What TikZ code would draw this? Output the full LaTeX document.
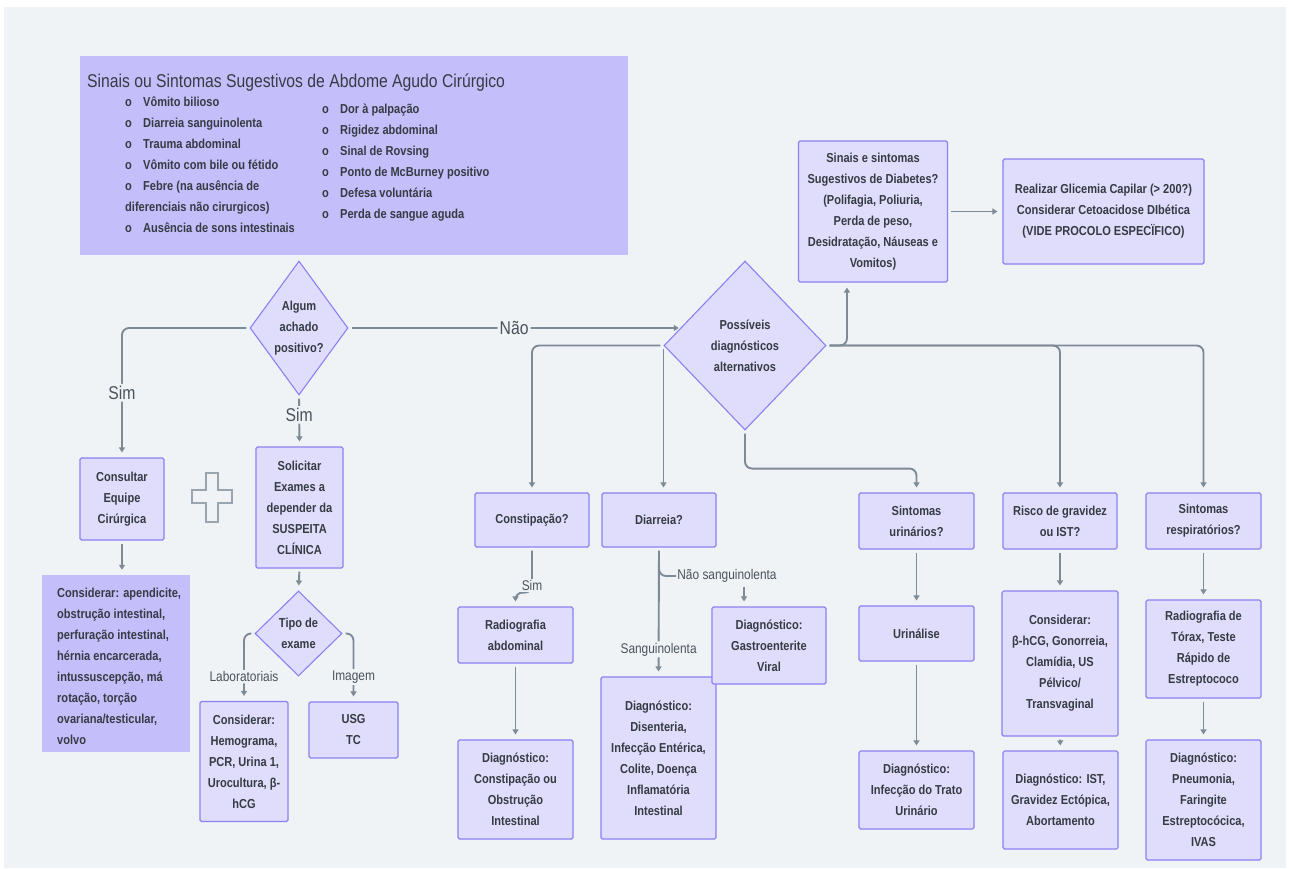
\documentclass[tikz,border=0pt]{standalone}
\usepackage{fontspec}
\setmainfont{Liberation Sans}[FakeStretch=0.85]
\usetikzlibrary{arrows.meta,shapes.geometric,calc}
\definecolor{bg}{HTML}{EFF3F6}
\definecolor{bfill}{HTML}{DFDDFB}
\definecolor{bdraw}{HTML}{8C81F2}
\definecolor{sfill}{HTML}{C4BEFB}
\definecolor{txt}{HTML}{363B43}
\definecolor{lncol}{HTML}{7E8A96}
\definecolor{lblc}{HTML}{4A525C}
\definecolor{plusc}{HTML}{9AA4AE}
\newcommand{\bxf}{\bfseries\fontsize{13}{21}\selectfont}
\newcommand{\lbf}{\fontsize{14}{17}\selectfont}
\newcommand{\blf}{\fontsize{18.5}{22}\selectfont}
\tikzset{
  box/.style={draw=bdraw, fill=bfill, line width=1.1pt, rounded corners=1.5pt, align=center, text=txt, font=\bxf, inner sep=0pt},
  sbox/.style={fill=sfill, inner sep=0pt},
  dia/.style={diamond, draw=bdraw, fill=bfill, line width=1.1pt, inner sep=0pt},
  dtxt/.style={align=center, text=txt, font=\bxf, inner sep=0pt},
  btxt/.style={anchor=base west, text=txt, font=\bxf, inner sep=0pt},
  lbl/.style={fill=bg, text=lblc, font=\lbf, inner sep=1.5pt},
  blbl/.style={fill=bg, text=lblc, font=\blf, inner sep=2pt},
  ln/.style={draw=lncol, line width=1.9pt, rounded corners=7pt},
  arr/.style={ln, -{Triangle[length=5pt,width=6pt]}, shorten >=5pt, shorten <=3pt},
}
\begin{document}
\begin{tikzpicture}[x=1pt,y=-1pt]
\useasboundingbox (0,0) rectangle (1289,868);
\fill[white] (0,0) rectangle (1289,868);
\fill[bg] (4,7) rectangle (1286,868);

% top box
\node[sbox, minimum width=548, minimum height=199, anchor=north west] (top) at (80,56) {};
\node[anchor=base west, inner sep=0pt, text=txt, font=\blf] (title) at (87,87) {Sinais ou Sintomas Sugestivos de Abdome Agudo Cirúrgico};
\node[btxt] (la1) at (125,106.5) {o};  \node[btxt] (lb1) at (143,106.5) {Vômito bilioso};
\node[btxt] (la2) at (125,127.5) {o};  \node[btxt] (lb2) at (143,127.5) {Diarreia sanguinolenta};
\node[btxt] (la3) at (125,148.5) {o};  \node[btxt] (lb3) at (143,148.5) {Trauma abdominal};
\node[btxt] (la4) at (125,169.5) {o};  \node[btxt] (lb4) at (143,169.5) {Vômito com bile ou fétido};
\node[btxt] (la5) at (125,190.5) {o};  \node[btxt] (lb5) at (143,190.5) {Febre (na ausência de};
\node[btxt] (lb6) at (125,211.5) {diferenciais não cirurgicos)};
\node[btxt] (la7) at (125,232.5) {o};  \node[btxt] (lb7) at (143,232.5) {Ausência de sons intestinais};
\node[btxt] (ra1) at (322,113) {o};  \node[btxt] (rb1) at (340,113) {Dor à palpação};
\node[btxt] (ra2) at (322,134) {o};  \node[btxt] (rb2) at (340,134) {Rigidez abdominal};
\node[btxt] (ra3) at (322,155) {o};  \node[btxt] (rb3) at (340,155) {Sinal de Rovsing};
\node[btxt] (ra4) at (322,176) {o};  \node[btxt] (rb4) at (340,176) {Ponto de McBurney positivo};
\node[btxt] (ra5) at (322,197) {o};  \node[btxt] (rb5) at (340,197) {Defesa voluntária};
\node[btxt] (ra6) at (322,218) {o};  \node[btxt] (rb6) at (340,218) {Perda de sangue aguda};

% left part
\node[dia, minimum width=98, minimum height=134] (algum) at (299,328) {};
\node[dtxt] (algumt) at (algum) {Algum\\achado\\positivo?};
\node[box, minimum width=84, minimum height=82] (consult) at (122,499) {Consultar\\Equipe\\Cirúrgica};
\node[box, minimum width=87, minimum height=121] (solic) at (299.5,507.5) {Solicitar\\Exames a\\depender da\\SUSPEITA\\CLÍNICA};
\node[sbox, minimum width=148, minimum height=177] (consid) at (116,663.5) {};
\node[anchor=west, align=left, text=txt, font=\bxf, inner sep=0pt] (considt) at (57,666) {Considerar: apendicite,\\obstrução intestinal,\\perfuração intestinal,\\hérnia encarcerada,\\intussuscepção, má\\rotação, torção\\ovariana/testicular,\\volvo};
\node[dia, minimum width=87, minimum height=85] (tipo) at (298.5,633.5) {};
\node[dtxt] (tipot) at (tipo) {Tipo de\\exame};
\node[box, minimum width=88, minimum height=120] (lab) at (244,761.5) {Considerar:\\Hemograma,\\PCR, Urina 1,\\Urocultura, β-\\hCG};
\node[box, minimum width=89, minimum height=56] (img) at (353.5,730) {USG\\TC};
\draw[plusc, line width=1.3pt] (206,473) -- (218,473) -- (218,490) -- (232,490) -- (232,503) -- (218,503) -- (218,522) -- (206,522) -- (206,503) -- (192,503) -- (192,490) -- (206,490) -- cycle;

% middle / right
\node[dia, minimum width=162, minimum height=169] (poss) at (745,345.5) {};
\node[dtxt] (posst) at (poss) {Possíveis\\diagnósticos\\alternativos};
\node[box, minimum width=149, minimum height=141] (diab) at (873,211.5) {Sinais e sintomas\\Sugestivos de Diabetes?\\(Polifagia, Poliuria,\\Perda de peso,\\Desidratação, Náuseas e\\Vomitos)};
\node[box, minimum width=201, minimum height=105] (real) at (1103.5,211.5) {Realizar Glicemia Capilar (> 200?)\\Considerar Cetoacidose DIbética\\(VIDE PROCOLO ESPECÏFICO)};
\node[box, minimum width=114, minimum height=54] (const) at (532,520) {Constipação?};
\node[box, minimum width=114, minimum height=54] (diar) at (659,520) {Diarreia?};
\node[box, minimum width=115, minimum height=56] (urin) at (916.5,521) {Sintomas\\urinários?};
\node[box, minimum width=114, minimum height=56] (risco) at (1060,521) {Risco de gravidez\\ou IST?};
\node[box, minimum width=115, minimum height=56] (resp) at (1203.5,521) {Sintomas\\respiratórios?};
\node[box, minimum width=115, minimum height=56] (rad) at (515.5,635) {Radiografia\\abdominal};
\node[box, minimum width=115, minimum height=99] (diagC) at (515.5,789.5) {Diagnóstico:\\Constipação ou\\Obstrução\\Intestinal};
\node[box, minimum width=115, minimum height=162] (diagD) at (658.5,758) {Diagnóstico:\\Disenteria,\\Infecção Entérica,\\Colite, Doença\\Inflamatória\\Intestinal};
\node[box, minimum width=114, minimum height=77] (gastro) at (769,645.5) {Diagnóstico:\\Gastroenterite\\Viral};
\node[box, minimum width=115, minimum height=55] (urinal) at (916.5,633.5) {Urinálise};
\node[box, minimum width=115, minimum height=78] (itu) at (916.5,790) {Diagnóstico:\\Infecção do Trato\\Urinário};
\node[box, minimum width=116, minimum height=145] (cons2) at (1060,663.5) {Considerar:\\β-hCG, Gonorreia,\\Clamídia, US\\Pélvico/\\Transvaginal};
\node[box, minimum width=115, minimum height=98] (ist) at (1060.5,800) {Diagnóstico: IST,\\Gravidez Ectópica,\\Abortamento};
\node[box, minimum width=115, minimum height=98] (radT) at (1203.5,649) {Radiografia de\\Tórax, Teste\\Rápido de\\Estreptococo};
\node[box, minimum width=115, minimum height=120] (diagR) at (1203.5,800) {Diagnóstico:\\Pneumonia,\\Faringite\\Estreptocócica,\\IVAS};

% connectors
\draw[arr] (algum.west) -| (consult.north) node[pos=0.75, blbl] (s1) {Sim};
\draw[arr] (algum.south) -- (solic.north) node[pos=0.38, blbl] (s2) {Sim};
\coordinate (naoend) at ($(poss.west)!0.2!(poss.north)$);
\draw[arr, shorten >=1pt] (algum.east) -- (algum.east -| naoend) node[midway, blbl] (nao) {Não};
\draw[arr] (consult.south) -- (consult.south |- consid.north);
\draw[arr] (solic.south) -- (tipo.north);
\draw[arr] (tipo.west) -| (lab.north) node[pos=0.82, lbl] (lablab) {Laboratoriais};
\draw[arr] (tipo.east) -| (img.north) node[pos=0.82, lbl] (labimg) {Imagem};

\draw[arr] (poss.west) -| (const.north);
\draw[arr] (poss.west) -- (poss.west |- diar.north);
\coordinate (j1) at ($(poss.south)+(0,38)$);
\draw[arr] (poss.south) -- (j1) -| (urin.north);
\coordinate (dbin) at ($(diab.south west)+(49,0)$);
\draw[arr] (poss.east) -| (dbin);
\draw[arr] (poss.east) -| (risco.north);
\draw[arr] (poss.east) -| (resp.north);
\draw[arr] (diab.east) -- (real.west);

\coordinate (cs) at ($(const.south)+(0,45)$);
\draw[arr] (const.south) -- (cs) -| (rad.north);
\node[lbl] (s3) at ($(const.south)+(0,38)$) {Sim};
\draw[arr] (rad.south) -- (diagC.north);
\draw[arr] (diar.south) -- (diagD.north) node[pos=0.79, lbl] (sang) {Sanguinolenta};
\node[lbl, inner sep=1pt] (nsl) at (727,576) {Não sanguinolenta};
\draw[ln] ($(diar.south)+(0,6)$) |- (nsl.west);
\coordinate (gx) at ($(gastro.north)+(-25,0)$);
\draw[arr] (nsl.south -| gx) -- (gx);
\draw[arr] (urin.south) -- (urinal.north);
\draw[arr] (urinal.south) -- (itu.north);
\draw[arr] (risco.south) -- (cons2.north);
\draw[arr] (cons2.south) -- (ist.north);
\draw[arr] (resp.south) -- (radT.north);
\draw[arr] (radT.south) -- (diagR.north);
\end{tikzpicture}
\end{document}
